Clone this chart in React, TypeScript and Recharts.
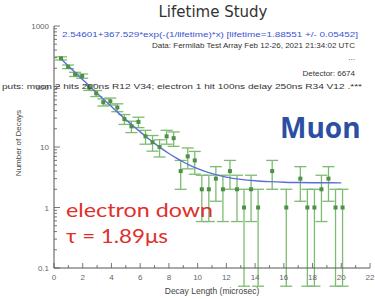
import React from "react";
import {
  ComposedChart, Scatter, Line, ErrorBar, XAxis, YAxis,
} from "recharts";

document.body.style.margin = "0";

// decay time bins (microsec) and counts per bin
const BIN_X = [
  0.49, 0.98, 1.47, 1.96, 2.45, 2.94, 3.43, 3.92, 4.41, 4.9,
  5.39, 5.88, 6.37, 6.86, 7.35, 7.84, 8.33, 8.82, 9.31, 9.8,
  10.29, 10.78, 11.27, 11.76, 12.25, 12.74, 13.23, 13.72, 14.21, 14.7,
  15.19, 15.68, 16.17, 16.66, 17.15, 17.64, 18.13, 18.62, 19.11, 19.6, 20.09,
];
const COUNTS = [
  292, 212, 159, 149, 96, 77, 55, 57, 45, 29,
  22, 26, 15, 12, 10, 15, 14, 4, 7, 6,
  2, 2, 3, 2, 4, 2, 1, 2, 1, 0,
  4, 0, 1, 0, 3, 1, 1, 2, 3, 1, 1,
];

// fitted curve
const FIT_X = [0.5, 1, 1.5, 2, 2.5, 3, 3.5, 4, 4.5, 5, 5.5, 6, 6.5, 7, 7.5, 8, 8.5, 9, 9.5, 10, 11, 12, 13, 14, 15, 16, 17, 18, 19, 20];
const FIT_Y = [284.5, 218.8, 168.4, 129.8, 100.1, 77.4, 60.0, 46.6, 36.3, 28.5, 22.4, 17.8, 14.2, 11.5, 9.4, 7.8, 6.6, 5.65, 4.93, 4.38, 3.62, 3.18, 2.92, 2.77, 2.68, 2.62, 2.59, 2.57, 2.56, 2.55];

const X_TICKS = [0, 1, 2, 3, 4, 5, 6, 7, 8, 9, 10, 11, 12, 13, 14, 15, 16, 17, 18, 19, 20, 21, 22];
const Y_MAJOR = [0.1, 1, 10, 100, 1000];
const Y_LABELS = ["0.1", "1", "10", "100", "1000"];
const Y_TICKS = Y_MAJOR.slice(0, -1)
  .flatMap((d) => [1, 2, 3, 4, 5, 6, 7, 8, 9].map((m) => +(d * m).toPrecision(3)))
  .concat([1000]);

const points = BIN_X.map((x, i) => ({
  x,
  y: COUNTS[i],
  err: [Math.min(Math.sqrt(COUNTS[i]), COUNTS[i] * 0.95), Math.sqrt(COUNTS[i])],
})).filter((p) => p.y > 0);
const fit = FIT_X.map((x, i) => ({ x, y: FIT_Y[i] }));

const AXIS = "#555";
const LABEL = "#666";
const FONT = "'Liberation Sans', Arial, sans-serif";

const LeftTick = (p: any) => {
  const v = p.payload.value;
  const idx = Y_MAJOR.indexOf(v);
  const ax = p.x + 5;
  return (
    <g>
      <line x1={ax} x2={ax + (idx >= 0 ? 6 : 3)} y1={p.y} y2={p.y} stroke={AXIS} strokeWidth={0.8} />
      {idx >= 0 && (
        <text x={p.x} y={p.y + 3} textAnchor="end" fontSize={8} fill={LABEL} fontFamily={FONT}>
          {Y_LABELS[idx]}
        </text>
      )}
    </g>
  );
};

const RightTick = (p: any) => {
  const major = Y_MAJOR.includes(p.payload.value);
  return <line x1={p.x} x2={p.x - (major ? 6 : 3)} y1={p.y} y2={p.y} stroke={AXIS} strokeWidth={0.8} />;
};

const BottomTick = (p: any) => {
  const v = p.payload.value;
  const ay = p.y - 4;
  return (
    <g>
      <line x1={p.x} x2={p.x} y1={ay} y2={ay - (v % 2 === 0 ? 5 : 3)} stroke={AXIS} strokeWidth={0.8} />
      {v % 2 === 0 && (
        <text x={p.x} y={p.y + 8} textAnchor="middle" fontSize={8} fill={LABEL} fontFamily={FONT}>
          {v}
        </text>
      )}
    </g>
  );
};

const TopTick = (p: any) => (
  <line x1={p.x} x2={p.x} y1={p.y} y2={p.y + 4} stroke={AXIS} strokeWidth={0.8} />
);

const Marker = (p: any) => (
  <rect x={p.cx - 2} y={p.cy - 2} width={4} height={4} fill="#4f8f47" />
);

export default function App() {
  return (
    <div style={{ position: "relative", width: 375, height: 299, background: "#fff" }}>
      <ComposedChart width={375} height={299} data={fit} margin={{ top: 26, right: 5, bottom: 0, left: 0 }}>
        <XAxis
          dataKey="x" type="number" domain={[0, 22]} ticks={X_TICKS} interval={0}
          height={31} tickSize={0} tickMargin={4} tick={BottomTick}
          axisLine={{ stroke: AXIS }} allowDataOverflow
        />
        <XAxis
          xAxisId="t" orientation="top" type="number" domain={[0, 22]} ticks={X_TICKS} interval={0}
          height={0} tickSize={0} tickMargin={0} tick={TopTick}
          axisLine={{ stroke: AXIS }} allowDataOverflow
        />
        <YAxis
          type="number" scale="log" domain={[0.1, 1000]} ticks={Y_TICKS} interval={0}
          width={54} tickSize={0} tickMargin={5} tick={LeftTick}
          axisLine={{ stroke: AXIS }} allowDataOverflow
        />
        <YAxis
          yAxisId="r" orientation="right" type="number" scale="log" domain={[0.1, 1000]} ticks={Y_TICKS} interval={0}
          width={0} tickSize={0} tickMargin={0} tick={RightTick}
          axisLine={{ stroke: AXIS }} allowDataOverflow
        />
        <Scatter data={points} dataKey="y" shape={Marker} isAnimationActive={false}>
          <ErrorBar dataKey="err" direction="y" width={6} stroke="#7dbb72" strokeWidth={1.3} />
        </Scatter>
        <Line
          data={fit} dataKey="y" type="monotone" stroke="#5b6fd8" strokeWidth={1.4}
          dot={false} isAnimationActive={false}
        />
      </ComposedChart>
      <svg width={375} height={299} style={{ position: "absolute", left: 0, top: 0, pointerEvents: "none" }}>
        <text x={213} y={17} textAnchor="middle" fontSize={15} fill="#333" fontFamily="'DejaVu Sans', sans-serif">
          Lifetime Study
        </text>
        <text x={62} y={37} fontSize={8} fill="#3a55d0" fontFamily={FONT} textLength={296} lengthAdjust="spacingAndGlyphs">
          2.54601+367.529*exp(-(1/lifetime)*x) [lifetime=1.88551 +/- 0.05452]
        </text>
        <text x={355} y={48} textAnchor="end" fontSize={8} fill="#333" fontFamily={FONT}>
          Data: Fermilab Test Array Feb 12-26, 2021 21:34:02 UTC
        </text>
        <text x={355} y={60} textAnchor="end" fontSize={8} fill="#333" fontFamily={FONT}>...</text>
        <text x={355} y={76} textAnchor="end" fontSize={8} fill="#333" fontFamily={FONT}>
          Detector: 6674
        </text>
        <text x={2} y={89} fontSize={8} fill="#333" fontFamily={FONT} textLength={360} lengthAdjust="spacingAndGlyphs">
          puts: muon 2 hits 200ns R12 V34; electron 1 hit 100ns delay 250ns R34 V12 .***
        </text>
        <text
          x={0} y={0} transform="translate(21,143) rotate(-90)" textAnchor="middle"
          fontSize={8} fill="#444" fontFamily={FONT}
        >
          Number of Decays
        </text>
        <text x={212} y={294} textAnchor="middle" fontSize={8.5} fill="#444" fontFamily={FONT}>
          Decay Length (microsec)
        </text>
        <text x={280} y={138} fontSize={28} fontWeight="bold" fill="#2c4ea3" fontFamily="'Open Sans', sans-serif">
          Muon
        </text>
        <text x={66} y={217} fontSize={19} fill="#e0302c" fontFamily="Lato, sans-serif" textLength={147} lengthAdjust="spacingAndGlyphs">
          electron down
        </text>
        <text x={66} y={243} fontSize={19} fill="#e0302c" fontFamily="Lato, sans-serif" textLength={102} lengthAdjust="spacingAndGlyphs">
          τ = 1.89μs
        </text>
      </svg>
    </div>
  );
}
